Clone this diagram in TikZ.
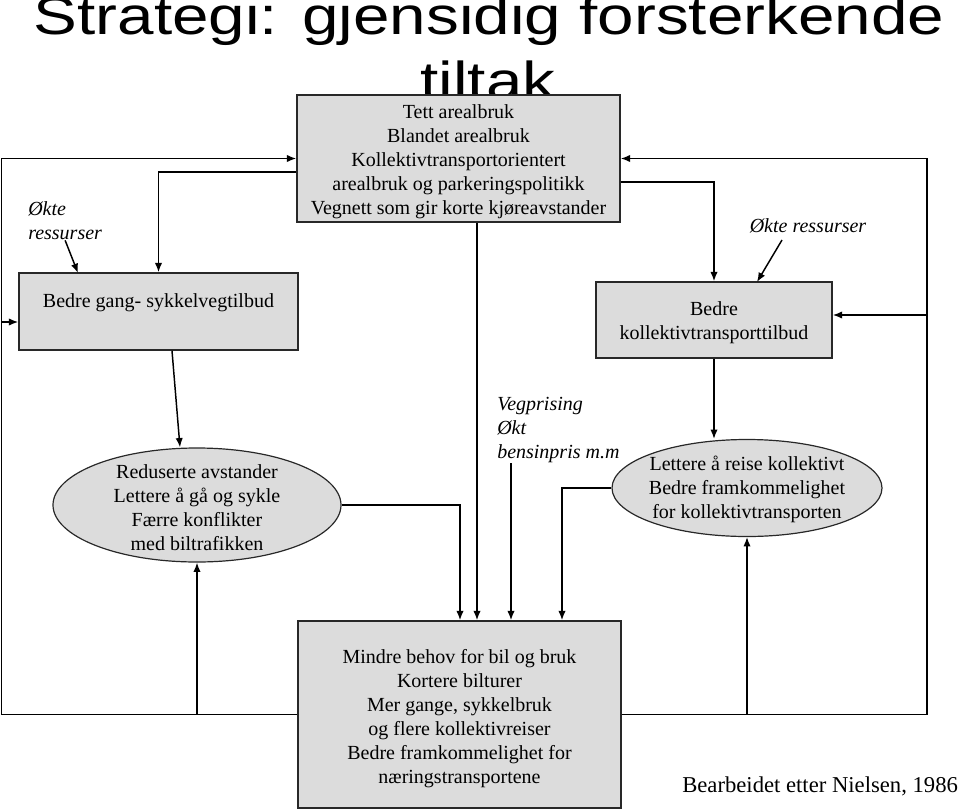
\documentclass[tikz,border=0pt]{standalone}
\usepackage{fontspec}
\setmainfont{Liberation Serif}
\newfontfamily\titlefont{Liberation Sans}
\usetikzlibrary{arrows.meta,shapes.geometric}
\definecolor{boxgray}{RGB}{220,220,220}
\definecolor{edgecol}{RGB}{40,40,40}
\tikzset{
 conn/.style={line width=1.1pt, draw=black},
 arr/.style={conn, -{Latex[length=7pt,width=5.5pt]}},
 boxnode/.style={draw=edgecol, line width=1.1pt, fill=boxgray, rectangle, inner sep=0pt},
 ellnode/.style={draw=edgecol, line width=0.9pt, fill=boxgray, ellipse, inner sep=0pt},
 txt/.style={font=\fontsize{15}{18}\selectfont, align=center, inner sep=0pt},
 itxt/.style={font=\fontsize{15}{18}\selectfont\itshape, align=left, inner sep=0pt},
 titletxt/.style={font=\titlefont\fontsize{40}{40}\selectfont, anchor=base, inner sep=0pt},
}
\begin{document}
\begin{tikzpicture}[x=0.75pt,y=-0.75pt]
\clip (0,0) rectangle (960,810);
% title
\node[titletxt] (t1) at (489,34) {\scalebox{1.23}[1]{Strategi: gjensidig forsterkende}};
\node[titletxt] (t2) at (488,99) {\scalebox{1.23}[1]{tiltak}};
% boxes
\node[boxnode, minimum width=242.25pt, minimum height=95.25pt] (top) at (458.5,158.5) {};
\node[txt] (toptxt) at (458.5,161.5)
 {Tett arealbruk\\Blandet arealbruk\\Kollektivtransportorientert\\arealbruk og parkeringspolitikk\\Vegnett som gir korte kjøreavstander};
\node[boxnode, minimum width=209.25pt, minimum height=57.75pt] (gang) at (158.5,311.5) {};
\node[txt] (gangtxt) at (158.5,303) {Bedre gang- sykkelvegtilbud};
\node[boxnode, minimum width=177pt, minimum height=57pt] (koll) at (714,320) {};
\node[txt] (kolltxt) at (714,323) {Bedre\\kollektivtransporttilbud};
\node[ellnode, minimum width=216pt, minimum height=85.5pt] (lell) at (197,505) {};
\node[txt] (lelltxt) at (197,507.5)
 {Reduserte avstander\\Lettere å gå og sykle\\Færre konflikter\\med biltrafikken};
\node[ellnode, minimum width=202.5pt, minimum height=72.75pt] (rell) at (747,488) {};
\node[txt] (relltxt) at (747,489)
 {Lettere å reise kollektivt\\Bedre framkommelighet\\for kollektivtransporten};
\node[boxnode, minimum width=242.25pt, minimum height=140.25pt] (bot) at (459.5,714.5) {};
\node[txt] (bottxt) at (459.5,718.5)
 {Mindre behov for bil og bruk\\Kortere bilturer\\Mer gange, sykkelbruk\\og flere kollektivreiser\\Bedre framkommelighet for\\næringstransportene};
% free texts
\node[itxt, anchor=west] (okL) at (28,221) {Økte\\ressurser};
\node[itxt] (okR) at (808,226) {Økte ressurser};
\node[itxt, anchor=north west] (veg) at (497,397) {Vegprising\\Økt\\bensinpris m.m};
\node[font=\fontsize{17}{20}\selectfont, anchor=base west, inner sep=0pt] (src) at (682,792) {Bearbeidet etter Nielsen, 1986};
% coordinates
\coordinate (jl) at (1.5,322);
\coordinate (jr) at (927,315);
\coordinate (gangin) at (78,273);
\coordinate (okRs) at (782,240);
\coordinate (kollin) at (757,282);
% connectors
\draw[arr] (bot.west) -- (bot.west -| jl) |- (top.west);
\draw[arr] (jl) -- (gang.west |- jl);
\draw[arr] (bot.east) -- (bot.east -| jr) |- (top.east);
\draw[arr] (jr) -- (koll.east |- jr);
\draw[arr] (lell.south |- bot.west) -- (lell.south);
\draw[arr] (rell.south |- bot.east) -- (rell.south);
\draw[arr] (top.west |- 0,172) -| (gang.north);
\draw[arr] (top.east |- 0,182) -| (koll.north);
\draw[arr] (top.south -| 477,0) -- (bot.north -| 477,0);
\draw[arr] (gang.south -| 172,0) -- (lell.north -| 180,0);
\draw[arr] (lell.east) -| (bot.north -| 460,0);
\draw[arr] (veg.south -| 511,0) -- (bot.north -| 511,0);
\draw[arr] (rell.west) -| (bot.north -| 562,0);
\draw[arr] (koll.south) -- (koll.south |- rell.north);
\draw[arr] (okL.south) -- (gangin);
\draw[arr] (okRs) -- (kollin);
\end{tikzpicture}
\end{document}
